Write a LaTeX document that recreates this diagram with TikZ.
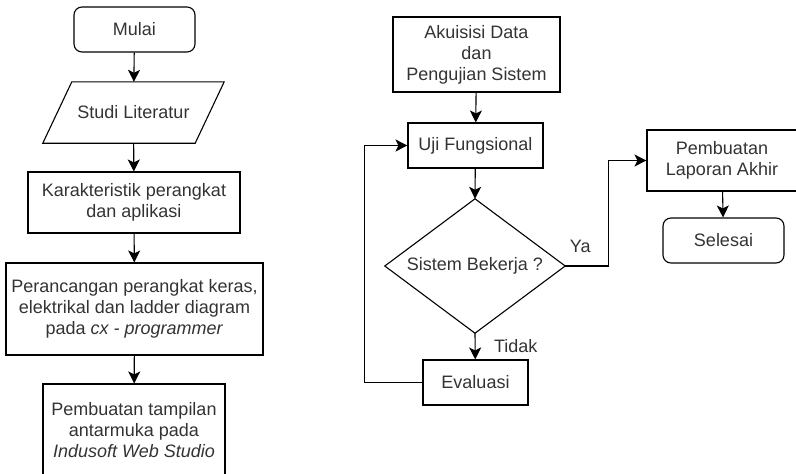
\documentclass[tikz,border=0pt]{standalone}
\usepackage{fontspec}
\setmainfont{Liberation Sans}
\usetikzlibrary{arrows.meta}

\tikzset{
  procbox/.style={draw, line width=1.1pt, inner sep=0pt, align=center, text=black!80},
  startstop/.style={procbox, rounded corners=8pt},
  flowline/.style={line width=1.1pt},
  flowarrow/.style={flowline, -{Stealth[length=12pt,width=12pt,inset=3pt]}},
  flowlabel/.style={text=black!80}
}

\begin{document}
\begin{tikzpicture}[x=1pt,y=-1pt,font=\fontsize{18}{21}\selectfont]
        \useasboundingbox (0,0) rectangle (796,474);

        % kolom kiri
        \node[startstop, minimum width=121pt, minimum height=45pt] (mulai) at (134.5,29.5) {Mulai};
        \node[flowlabel, inner sep=0pt, minimum width=181pt, minimum height=61pt] (studi) at (133.5,112.5) {Studi Literatur};
        \draw[flowline] ([xshift=29pt]studi.north west) -- (studi.north east) -- ([xshift=-29pt]studi.south east) -- (studi.south west) -- cycle;
        \node[procbox, minimum width=212pt, minimum height=61pt] (karak) at (134,202.5) {Karakteristik perangkat\\dan aplikasi};
        \node[procbox, minimum width=257pt, minimum height=92pt] (peran) at (134.5,309) {Perancangan perangkat keras,\\elektrikal dan ladder diagram\\pada \textit{cx - programmer}};
        \node[procbox, minimum width=182pt, minimum height=92pt] (tampil) at (134,430) {Pembuatan tampilan\\antarmuka pada\\\textit{Indusoft Web Studio}};

        \draw[flowarrow] (mulai) -- (studi);
        \draw[flowarrow] (studi) -- (karak);
        \draw[flowarrow] (karak) -- (peran);
        \draw[flowarrow] (peran) -- (tampil);

        % kolom kanan
        \node[procbox, minimum width=167pt, minimum height=75pt] (akuisisi) at (476.5,54.5) {Akuisisi Data\\dan\\Pengujian Sistem};
        \node[procbox, minimum width=135pt, minimum height=45pt] (uji) at (475.5,145.5) {Uji Fungsional};
        \node[flowlabel, inner sep=0pt, minimum width=180pt, minimum height=134pt] (sistem) at (475,266) {Sistem Bekerja ?};
        \draw[flowline] (sistem.north) -- (sistem.east) -- (sistem.south) -- (sistem.west) -- cycle;
        \node[procbox, minimum width=105pt, minimum height=45pt] (eval) at (475.5,382.5) {Evaluasi};
        \node[procbox, minimum width=150pt, minimum height=61pt] (laporan) at (722,160.5) {Pembuatan\\Laporan Akhir};
        \node[startstop, minimum width=121pt, minimum height=45pt] (selesai) at (723.5,240.5) {Selesai};

        \draw[flowarrow] (akuisisi) -- (uji);
        \draw[flowarrow] (uji) -- (sistem.north);
        \draw[flowarrow] (sistem.south) -- node[flowlabel, right, xshift=15pt] {Tidak} (eval);
        \draw[flowarrow] (eval.west) -- ++(-58,0) |- (uji.west);
        \draw[flowarrow] (sistem.east) -- node[flowlabel, pos=0.35, above, yshift=9pt] {Ya} ++(43,0) |- (laporan.west);
        \draw[flowarrow] (laporan) -- (selesai);
\end{tikzpicture}
\end{document}
